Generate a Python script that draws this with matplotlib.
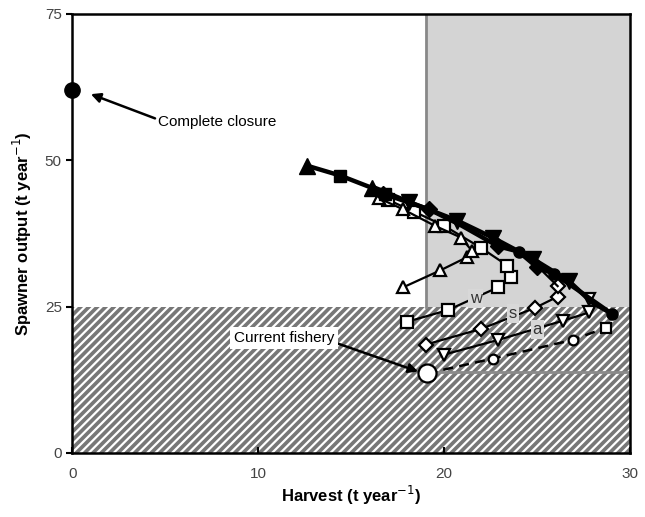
import matplotlib
matplotlib.use("Agg")
import matplotlib.pyplot as plt
from matplotlib.patches import Rectangle

plt.rcParams['font.family'] = ['Liberation Sans', 'DejaVu Sans']
plt.rcParams['hatch.linewidth'] = 1.6
plt.rcParams['hatch.color'] = 'white'

# Data (harvest, spawner output)
closure = (0.0, 62.0)
current = (19.1, 13.6)

# filled (main) trajectories
main_a_x = [16.2, 18.1, 20.7, 22.6, 24.8, 26.7, 27.9, 29.0]
main_a_y = [45.4, 42.9, 39.7, 36.8, 33.1, 29.4, 25.8, 23.8]
main_b_x = [12.6, 14.4, 16.1, 16.7, 19.2, 20.9, 22.9, 24.0, 25.0, 25.9, 27.2, 29.0]
main_b_y = [49.1, 47.4, 45.3, 44.3, 41.6, 38.9, 35.3, 34.4, 31.7, 30.6, 27.8, 23.8]
fill_tri_x = [12.6, 16.1]
fill_tri_y = [49.1, 45.3]
fill_sq_x = [14.4, 16.8]
fill_sq_y = [47.3, 44.2]
fill_dia_x = [16.7, 19.2, 22.9, 25.0]
fill_dia_y = [44.3, 41.6, 35.3, 31.7]
fill_inv_x = [18.1, 20.7, 22.6, 24.8, 26.7]
fill_inv_y = [42.9, 39.7, 36.8, 33.1, 29.4]
fill_circ_x = [24.0, 25.9, 29.0]
fill_circ_y = [34.4, 30.6, 23.8]

# open-marker trajectories
w_x = [18.0, 20.2, 22.9, 23.6, 23.4, 22.0, 20.0, 18.4, 17.0]
w_y = [22.4, 24.4, 28.3, 30.1, 32.0, 35.0, 38.8, 41.2, 43.2]
tri_x = [17.8, 19.8, 21.2, 21.5, 20.9, 19.5, 17.8, 16.5]
tri_y = [28.3, 31.2, 33.4, 34.5, 36.8, 38.8, 41.6, 43.5]
s_x = [19.0, 22.0, 24.9, 26.1, 26.1, 25.3]
s_y = [18.5, 21.2, 24.8, 26.7, 28.5, 31.0]
a_x = [20.0, 22.9, 26.4, 27.8, 27.8, 27.2]
a_y = [16.8, 19.3, 22.6, 24.0, 26.3, 27.8]
dash_x = [19.1, 22.6, 26.9, 28.7, 29.0]
dash_y = [13.6, 16.1, 19.3, 21.4, 23.8]

fig = plt.figure(figsize=(6.45, 5.17), dpi=100)
ax = fig.add_axes([0.112, 0.124, 0.865, 0.849])
ax.set_xlim(0, 30)
ax.set_ylim(0, 75)

# shaded regions
ax.add_patch(Rectangle((19, 25), 11, 50, facecolor='#d4d4d4', edgecolor='none', zorder=0))
ax.plot([19, 19], [25, 75], color='#888888', lw=2, zorder=0.5)
ax.add_patch(Rectangle((0, 0), 30, 25, facecolor='#777777', edgecolor='white',
                       hatch='////', linewidth=0, zorder=0))
ax.plot([19, 30], [13.8, 13.8], color='#8a8a8a', lw=2, zorder=0.6)

# open trajectories
lw_o = 1.6
ax.plot(w_x, w_y, '-', color='black', lw=lw_o, marker='s', ms=8, mfc='white', mec='black', mew=1.6, zorder=3)
ax.plot(tri_x, tri_y, '-', color='black', lw=lw_o, marker='^', ms=9, mfc='white', mec='black', mew=1.6, zorder=3)
ax.plot(s_x[:-1], s_y[:-1], '-', color='black', lw=lw_o, marker='D', ms=7, mfc='white', mec='black', mew=1.6, zorder=3)
ax.plot(s_x[-2:], s_y[-2:], '-', color='black', lw=lw_o, zorder=3)
ax.plot(a_x[:-1], a_y[:-1], '-', color='black', lw=lw_o, marker='v', ms=9, mfc='white', mec='black', mew=1.6, zorder=3)
ax.plot(a_x[-2:], a_y[-2:], '-', color='black', lw=lw_o, zorder=3)
ax.plot(dash_x, dash_y, '--', color='black', lw=1.8, dashes=(4, 2.5), zorder=3)
ax.plot(dash_x[1:3], dash_y[1:3], linestyle='none', marker='o', ms=7, mfc='white', mec='black', mew=1.6, zorder=4)
ax.plot(dash_x[3], dash_y[3], marker='s', ms=7, mfc='white', mec='black', mew=1.6, zorder=4)
ax.plot(current[0], current[1], marker='o', ms=13, mfc='white', mec='black', mew=1.6, zorder=5)

# main filled trajectories
ax.plot(main_a_x, main_a_y, '-', color='black', lw=3.2, zorder=4)
ax.plot(main_b_x, main_b_y, '-', color='black', lw=3.2, zorder=4)
ax.plot(fill_tri_x, fill_tri_y, '^', color='black', ms=11, zorder=5)
ax.plot(fill_sq_x, fill_sq_y, 's', color='black', ms=9, zorder=5)
ax.plot(fill_dia_x, fill_dia_y, 'D', color='black', ms=8, zorder=5)
ax.plot(fill_inv_x, fill_inv_y, 'v', color='black', ms=11, zorder=5)
ax.plot(fill_circ_x, fill_circ_y, 'o', color='black', ms=8, zorder=5)

# closure point
ax.plot(closure[0], closure[1], 'o', color='black', ms=11, clip_on=False, zorder=6)

# labels on lines
bb = dict(boxstyle='square,pad=0.1', facecolor='#d8d8d8', edgecolor='none')
ax.text(21.7, 26.4, 'w', fontsize=12, ha='center', va='center', color='#333333', bbox=bb, zorder=6)
ax.text(23.7, 23.8, 's', fontsize=12, ha='center', va='center', color='#333333', bbox=bb, zorder=6)
ax.text(25.0, 21.1, 'a', fontsize=12, ha='center', va='center', color='#333333', bbox=bb, zorder=6)

# annotations
ax.annotate('Complete closure', xy=(1.0, 61.3), xytext=(4.6, 56.5), fontsize=11,
            ha='left', va='center',
            arrowprops=dict(arrowstyle='-|>', color='black', lw=1.8, mutation_scale=14,
                            shrinkA=0, shrinkB=0, relpos=(0, 0.7)), zorder=7)
ax.annotate('Current fishery', xy=(18.6, 13.9), xytext=(11.4, 19.6), fontsize=11,
            ha='center', va='center',
            bbox=dict(boxstyle='square,pad=0.25', facecolor='white', edgecolor='none'),
            arrowprops=dict(arrowstyle='-|>', color='black', lw=1.8, mutation_scale=14,
                            shrinkA=0, shrinkB=0, relpos=(1, 0.2)), zorder=7)

ax.set_xticks([0, 10, 20, 30])
ax.set_yticks([0, 25, 50, 75])
ax.tick_params(axis='x', direction='in', length=4, width=1.5, labelsize=11, labelcolor='#444444', pad=10)
ax.tick_params(axis='y', direction='out', length=4, width=1.5, labelsize=11, labelcolor='#444444')
for s in ax.spines.values():
    s.set_linewidth(1.8)
    s.set_zorder(8)

ax.set_xlabel('Harvest (t year$^{-1}$)', fontsize=12, fontweight='bold', labelpad=2)
ax.set_ylabel('Spawner output (t year$^{-1}$)', fontsize=12, fontweight='bold', labelpad=8)

fig.savefig('out.png', dpi=100)
